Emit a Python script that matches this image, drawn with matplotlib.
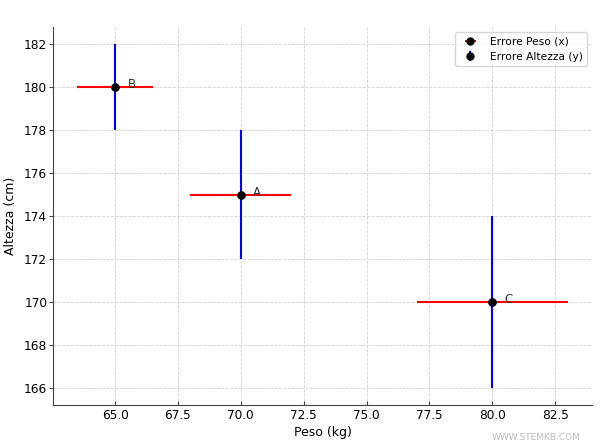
import matplotlib
matplotlib.use("Agg")
import matplotlib.pyplot as plt

# dati: peso (kg), altezza (cm) e relativi errori
labels = ["A", "B", "C"]
peso = [70, 65, 80]
altezza = [175, 180, 170]
err_peso = [2, 1.5, 3]
err_altezza = [3, 2, 4]

fig, ax = plt.subplots(figsize=(6, 4.48), dpi=100)

ax.errorbar(peso, altezza, xerr=err_peso, fmt='o', color='black', ecolor='red',
            markersize=5, label='Errore Peso (x)')
ax.errorbar(peso, altezza, yerr=err_altezza, fmt='o', color='black', ecolor='blue',
            markersize=5, label='Errore Altezza (y)')

for lab, x, y in zip(labels, peso, altezza):
    ax.text(x + 0.5, y - 0.05, lab, fontsize=8.5, color='#333333')

ax.set_xlabel("Peso (kg)", fontsize=9, labelpad=3)
ax.set_ylabel("Altezza (cm)", fontsize=9, labelpad=5)
ax.grid(True, linestyle='--', color='#d0d0d0', linewidth=0.6)
ax.set_axisbelow(True)
ax.spines['top'].set_visible(False)
ax.spines['right'].set_visible(False)
for s in ('left', 'bottom'):
    ax.spines[s].set_color('#444444')
ax.tick_params(axis='x', direction='in', length=3, pad=2.5, labelsize=8.7, color='#444444')
ax.tick_params(axis='y', direction='out', length=3, pad=1, labelsize=8.7, color='#444444')
ax.legend(loc='upper right', fontsize=7.7)

fig.text(0.968, 0.013, "WWW.STEMKB.COM", ha='right', va='bottom', fontsize=6.5,
         color='#bbbbbb')

fig.subplots_adjust(left=0.088, right=0.987, top=0.94, bottom=0.095)
fig.savefig("out.png", dpi=100)
